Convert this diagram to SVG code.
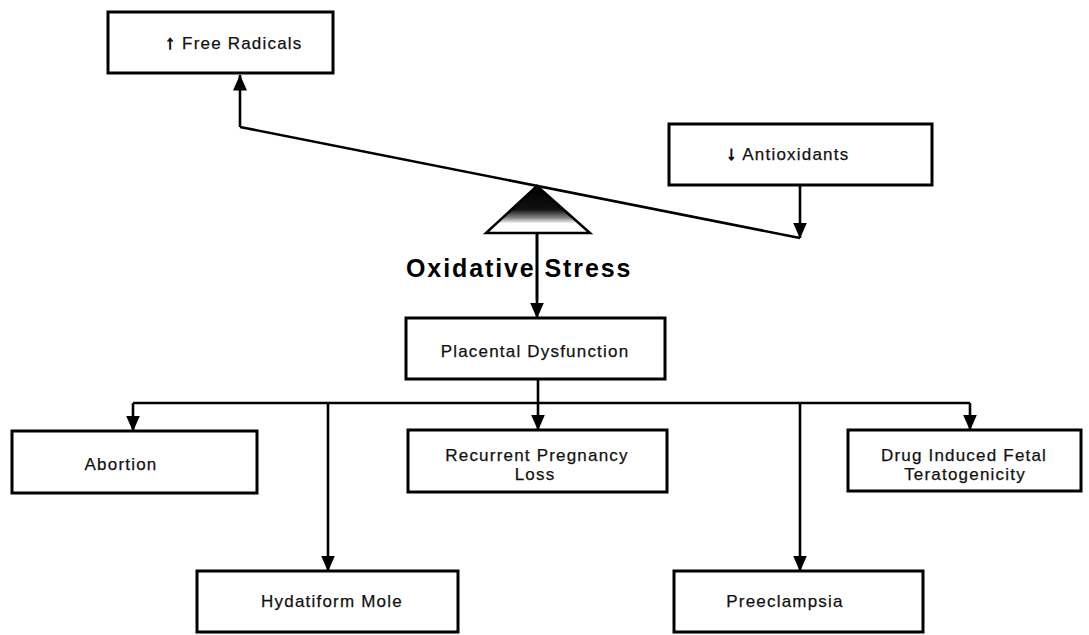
<svg xmlns="http://www.w3.org/2000/svg" width="1089" height="635" viewBox="0 0 1089 635">
<style>
.box{fill:#fff;stroke:#000;stroke-width:3}
.lbl{font-family:"Liberation Sans",Arial,sans-serif;font-size:17px;letter-spacing:1.2px;fill:#111;text-anchor:middle;stroke:#111;stroke-width:0.25}
.sym{font-weight:bold;font-size:19px;stroke-width:1}
.ln{fill:none;stroke:#000;stroke-width:2.6}
.title{font-family:"Liberation Sans",Arial,sans-serif;font-size:25px;font-weight:bold;letter-spacing:1.9px;fill:#000}
</style>
<defs>
<marker id="arrS" viewBox="0 0 16 14" refX="15.5" refY="7" markerWidth="16" markerHeight="14" markerUnits="userSpaceOnUse" orient="auto">
<path d="M0,0 L16,7 L0,14 Z" fill="#000"/>
</marker>
<linearGradient id="fulcrum" x1="0" y1="0" x2="0" y2="1">
<stop offset="0" stop-color="#000"/>
<stop offset="0.5" stop-color="#111"/>
<stop offset="0.68" stop-color="#888"/>
<stop offset="0.8" stop-color="#fff"/>
<stop offset="1" stop-color="#fff"/>
</linearGradient>
</defs>

<g id="connectors">
<path class="ln" d="M240,127 L800,238"/>
<path class="ln" d="M240,127 L240,75" marker-end="url(#arrS)"/>
<path class="ln" d="M800,186 L800,238" marker-end="url(#arrS)"/>
<path class="ln" d="M537,233 L537,318" marker-end="url(#arrS)"/>
<path class="ln" d="M538,380 L538,430" marker-end="url(#arrS)"/>
<path class="ln" d="M133,403 L970,403"/>
<path class="ln" d="M133,403 L133,431" marker-end="url(#arrS)"/>
<path class="ln" d="M970,403 L970,430" marker-end="url(#arrS)"/>
<path class="ln" d="M328,403 L328,571" marker-end="url(#arrS)"/>
<path class="ln" d="M800,403 L800,571" marker-end="url(#arrS)"/>
</g>

<g id="fulcrum-node">
<polygon points="537,186 486,233 590,233" fill="url(#fulcrum)" stroke="#000" stroke-width="2.5" stroke-linejoin="miter"/>
</g>

<g id="oxidative-stress">
<text class="title" x="406" y="277">Oxidative Stress</text>
<line x1="537" y1="233" x2="537" y2="300" stroke="#000" stroke-width="2.6"/>
</g>

<g id="free-radicals">
<rect class="box" x="108" y="12" width="225" height="61"/>
<text class="lbl" x="234" y="49"><tspan class="sym">↑</tspan> Free Radicals</text>
</g>

<g id="antioxidants">
<rect class="box" x="669" y="124" width="263" height="61"/>
<text class="lbl" x="788" y="160"><tspan class="sym">↓</tspan> Antioxidants</text>
</g>

<g id="placental-dysfunction">
<rect class="box" x="406" y="318" width="259" height="61"/>
<text class="lbl" x="535" y="357">Placental Dysfunction</text>
</g>

<g id="abortion">
<rect class="box" x="12" y="431" width="245" height="62"/>
<text class="lbl" x="121" y="470">Abortion</text>
</g>

<g id="recurrent-pregnancy-loss">
<rect class="box" x="408" y="430" width="259" height="62"/>
<text class="lbl" x="537" y="461">Recurrent Pregnancy</text>
<text class="lbl" x="535" y="480">Loss</text>
</g>

<g id="drug-induced">
<rect class="box" x="848" y="430" width="233" height="61"/>
<text class="lbl" x="964" y="461">Drug Induced Fetal</text>
<text class="lbl" x="965" y="480">Teratogenicity</text>
</g>

<g id="hydatiform-mole">
<rect class="box" x="197" y="571" width="261" height="61"/>
<text class="lbl" x="332" y="607">Hydatiform Mole</text>
</g>

<g id="preeclampsia">
<rect class="box" x="674" y="571" width="249" height="61"/>
<text class="lbl" x="785" y="607">Preeclampsia</text>
</g>
</svg>
